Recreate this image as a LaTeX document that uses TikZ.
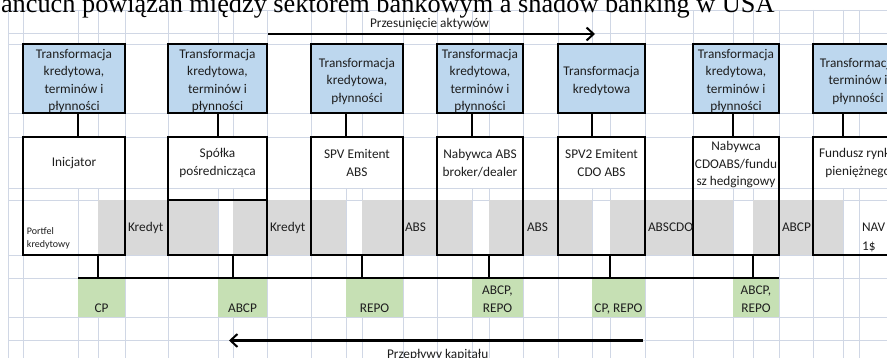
\documentclass[tikz,border=0pt]{standalone}
\usepackage{fontspec}
\setmainfont{Carlito}
\newfontfamily\titlefont{Liberation Serif}
\usetikzlibrary{arrows.meta}
\definecolor{gridc}{HTML}{D0D7E5}
\definecolor{bluef}{HTML}{BDD7EE}
\definecolor{grayf}{HTML}{D9D9D9}
\definecolor{greenf}{HTML}{C6E0B4}
\definecolor{txt}{HTML}{1E1E1E}
\begin{document}
\begin{tikzpicture}[x=1pt,y=-1pt,
  every node/.style={inner sep=0pt, outer sep=0pt, text=txt},
  body/.style={font=\fontsize{13.3}{17.5}\selectfont},
  small/.style={font=\fontsize{10}{13.5}\selectfont},
  gridline/.style={draw=gridc, line width=0.8pt},
  bluebox/.style={draw=black, line width=1.2pt, fill=bluef, minimum height=69pt},
  whitebox/.style={draw=black, line width=1.2pt, minimum height=118pt},
  greencell/.style={fill=greenf, minimum height=39pt},
  conn/.style={draw=black, line width=1.2pt},
  boxtext/.style={body, align=center},
  lefttext/.style={body, anchor=base west},
  midtext/.style={body, anchor=base},
  flow/.style={line width=2.2pt, -{Straight Barb[length=7pt,width=13pt,line width=2pt]}}
]
\useasboundingbox (0,0) rectangle (887,358);
\clip (0,0) rectangle (887,358);
\fill[white] (0,0) rectangle (887,358);

% spreadsheet grid
\foreach \x in {8,23,78,98,125,168,218,233,267,311,346,362,403,437,472,489,523,558,592,610,645,693,733,753,779,813,843,859}
  \draw[gridline] (\x,10) -- (\x,358);
\foreach \y in {10,33,44,113,137,188,200,255,278,317,340}
  \draw[gridline] (8,\y) -- (887,\y);

% title (cut at top)
\node[anchor=base west, font=\titlefont\fontsize{26.3}{30}\selectfont, text=black] (title) at (-15,12.5)
  {Łańcuch powiązań między sektorem bankowym a shadow banking w USA};

% white merged cells
\foreach \a/\b in {23/125,168/267,311/403,437/523,558/645,693/779,813/887}
  \fill[white] (\a,137) rectangle (\b,188);

% gray band
\foreach \a/\b in {98/218,233/346,362/472,489/592,610/733,753/843}
  \fill[grayf] (\a,200) rectangle (\b,255);

% blue boxes
\node[bluebox, minimum width=102pt] (b1) at (74,78.5) {};
\node[bluebox, minimum width=99pt]  (b2) at (217.5,78.5) {};
\node[bluebox, minimum width=92pt]  (b3) at (357,78.5) {};
\node[bluebox, minimum width=86pt]  (b4) at (480,78.5) {};
\node[bluebox, minimum width=87pt]  (b5) at (601.5,78.5) {};
\node[bluebox, minimum width=86pt]  (b6) at (736,78.5) {};
\node[bluebox, minimum width=88pt]  (b7) at (857,78.5) {};

% white boxes
\node[whitebox, minimum width=102pt] (w1) at (74,196) {};
\node[whitebox, minimum width=99pt]  (w2) at (217.5,196) {};
\node[whitebox, minimum width=92pt]  (w3) at (357,196) {};
\node[whitebox, minimum width=86pt]  (w4) at (480,196) {};
\node[whitebox, minimum width=87pt]  (w5) at (601.5,196) {};
\node[whitebox, minimum width=86pt]  (w6) at (736,196) {};
\node[whitebox, minimum width=88pt]  (w7) at (857,196) {};
\draw[conn] (w2.west |- 0,200) coordinate (w2m) -- (w2.east |- w2m);

% box texts
\node[boxtext] (b1t) at (74,81) {Transformacja\\kredytowa,\\terminów i\\płynności};
\node[boxtext] (b2t) at (217.5,81) {Transformacja\\kredytowa,\\terminów i\\płynności};
\node[boxtext] (b3t) at (357,81) {Transformacja\\kredytowa,\\płynności};
\node[boxtext] (b4t) at (480,81) {Transformacja\\kredytowa,\\terminów i\\płynności};
\node[boxtext] (b5t) at (601.5,81) {Transformacja\\kredytowa};
\node[boxtext] (b6t) at (736,81) {Transformacja\\kredytowa,\\terminów i\\płynności};
\node[boxtext] (b7t) at (858,81) {Transformacja\\terminów i\\płynności};

\node[boxtext] (w1t) at (74,163) {Inicjator};
\node[boxtext] (w2t) at (217.5,163) {Spółka\\pośrednicząca};
\node[boxtext] (w3t) at (357,163) {SPV Emitent\\ABS};
\node[boxtext] (w4t) at (480,163) {Nabywca ABS\\broker/dealer};
\node[boxtext] (w5t) at (601.5,163) {SPV2 Emitent\\CDO ABS};
\node[boxtext] (w6t) at (736,165) {Nabywca\\CDOABS/fundu\\sz hedgingowy};
\node[boxtext] (w7t) at (858,163) {Fundusz rynku\\pieniężnego};

% band labels
\node[small, anchor=base west] (pf1) at (27,234.5) {Portfel};
\node[small, anchor=base west] (pf2) at (27,248) {kredytowy};
\node[lefttext] (k1) at (128,232) {Kredyt};
\node[lefttext] (k2) at (270,232) {Kredyt};
\node[lefttext] (a1) at (405,232) {ABS};
\node[lefttext] (a2) at (527,232) {ABS};
\node[lefttext] (a3) at (648,232) {ABSCDO};
\node[lefttext] (a4) at (782,232) {ABCP};
\node[lefttext] (n1) at (862,232) {NAV};
\node[lefttext] (n2) at (862,250.5) {1\$};

% green cells
\node[greencell, minimum width=47pt] (g1) at (101.5,297.5) {};
\node[greencell, minimum width=49pt] (g2) at (242.5,297.5) {};
\node[greencell, minimum width=57pt] (g3) at (374.5,297.5) {};
\node[greencell, minimum width=51pt] (g4) at (497.5,297.5) {};
\node[greencell, minimum width=53pt] (g5) at (618.5,297.5) {};
\node[greencell, minimum width=46pt] (g6) at (756,297.5) {};
\node[midtext] (g1t) at (101.5,312.5) {CP};
\node[midtext] (g2t) at (242.5,312.5) {ABCP};
\node[midtext] (g3t) at (374.5,312.5) {REPO};
\node[midtext] (g4a) at (497.5,295) {ABCP,};
\node[midtext] (g4b) at (497.5,312.5) {REPO};
\node[midtext] (g5t) at (618.5,312.5) {CP, REPO};
\node[midtext] (g6a) at (756,295) {ABCP,};
\node[midtext] (g6b) at (756,312.5) {REPO};

% connectors blue -> white
\foreach \i/\x in {1/78,2/218,3/346,4/472,5/592,6/733,7/843}{
  \coordinate (t\i) at (\x,0);
  \draw[conn] (b\i.south -| t\i) -- (w\i.north -| t\i);
}
% drops to the funding bus
\coordinate (busL) at (78,278);
\coordinate (busR) at (779,278);
\draw[conn] (busL) -- (busR);
\foreach \i/\x in {1/98,2/233,3/362,4/489,5/610,6/753}{
  \coordinate (d\i) at (\x,278);
  \draw[conn] (w\i.south -| d\i) -- (d\i);
}

% flows
\coordinate (aS) at (268,34);
\coordinate (aE) at (595,34);
\draw[flow] (aS) -- (aE);
\node[lefttext] (aT) at (370,28) {Przesunięcie aktywów};
\coordinate (cS) at (643,340.5);
\coordinate (cE) at (229,340.5);
\draw[flow] (cS) -- (cE);
\node[lefttext] (cT) at (387,359) {Przepływy kapitału};
\end{tikzpicture}
\end{document}
